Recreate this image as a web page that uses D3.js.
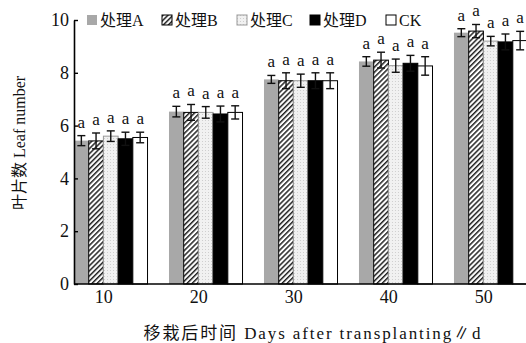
<!DOCTYPE html>
<html>
<head>
<meta charset="utf-8">
<title>Leaf number</title>
<style>
  body { margin: 0; background: #fff; }
  svg { display: block; }
  text { font-family: "Liberation Serif", "Noto Sans CJK SC", serif; fill: #111; }
</style>
<script src="https://d3js.org/d3.v7.min.js"></script>
</head>
<body>
<script>
// days after transplanting
var days = ["10", "20", "30", "40", "50"];
var series = ["处理A", "处理B", "处理C", "处理D", "CK"];
// mean leaf number per series, one value per day
var valA = [5.43, 6.53, 7.75, 8.43, 9.52];
var valB = [5.42, 6.50, 7.70, 8.48, 9.58];
var valC = [5.60, 6.50, 7.70, 8.27, 9.20];
var valD = [5.50, 6.44, 7.70, 8.36, 9.17];
var valCK = [5.55, 6.50, 7.70, 8.26, 9.22];
// error bar half widths
var errA = [0.19, 0.20, 0.15, 0.18, 0.15];
var errB = [0.30, 0.30, 0.30, 0.30, 0.25];
var errC = [0.20, 0.22, 0.25, 0.25, 0.18];
var errD = [0.25, 0.30, 0.30, 0.30, 0.30];
var errCK = [0.20, 0.25, 0.30, 0.35, 0.35];
var letters = ["a", "a", "a", "a", "a"];
var yTicks = [0, 2, 4, 6, 8, 10];

var vals = [valA, valB, valC, valD, valCK];
var errs = [errA, errB, errC, errD, errCK];

var w = 526, h = 343;
var svg = d3.select("body").append("svg").attr("width", w).attr("height", h);

var defs = svg.append("defs");
var hatch = defs.append("pattern").attr("id", "hatch")
  .attr("patternUnits", "userSpaceOnUse").attr("width", 3.6).attr("height", 3.6)
  .attr("patternTransform", "rotate(45)");
hatch.append("rect").attr("width", 3.6).attr("height", 3.6).attr("fill", "#fff");
hatch.append("rect").attr("width", 1.5).attr("height", 3.6).attr("fill", "#222");

var dots = defs.append("pattern").attr("id", "dots")
  .attr("patternUnits", "userSpaceOnUse").attr("width", 3).attr("height", 3);
dots.append("rect").attr("width", 3).attr("height", 3).attr("fill", "#f1f1f1");
dots.append("rect").attr("width", 1).attr("height", 1).attr("fill", "#cfcfcf");

var fills = ["#a8a8a8", "url(#hatch)", "url(#dots)", "#000", "#fff"];
var strokes = ["none", "#000", "#999", "#000", "#000"];

var x0 = d3.scaleBand().domain(days).range([74, 527.5]).paddingInner(0.226).paddingOuter(0);
var x1 = d3.scaleBand().domain(d3.range(series.length)).range([0, x0.bandwidth()]);
var y = d3.scaleLinear().domain([0, 10]).range([284, 20]);

// bars
var groups = svg.selectAll("g.grp").data(days).enter().append("g")
  .attr("class", "grp")
  .attr("transform", function (d) { return "translate(" + x0(d) + ",0)"; });

series.forEach(function (s, si) {
  groups.append("rect")
    .attr("x", function (d, i) { return x1(si); })
    .attr("y", function (d, i) { return y(vals[si][i]); })
    .attr("width", x1.bandwidth())
    .attr("height", function (d, i) { return y(0) - y(vals[si][i]); })
    .attr("fill", fills[si])
    .attr("stroke", strokes[si])
    .attr("stroke-width", 1);
});

// error bars + letters
series.forEach(function (s, si) {
  var cx = function (d, i) { return x1(si) + x1.bandwidth() / 2; };
  var eb = groups.append("g").attr("stroke", "#111").attr("stroke-width", 1.4);
  eb.append("line")
    .attr("x1", cx).attr("x2", cx)
    .attr("y1", function (d, i) { return y(vals[si][i] + errs[si][i]); })
    .attr("y2", function (d, i) { return y(vals[si][i] - errs[si][i]); });
  eb.append("line")
    .attr("x1", function (d, i) { return cx(d, i) - 4; })
    .attr("x2", function (d, i) { return cx(d, i) + 4; })
    .attr("y1", function (d, i) { return y(vals[si][i] + errs[si][i]); })
    .attr("y2", function (d, i) { return y(vals[si][i] + errs[si][i]); });
  eb.append("line")
    .attr("x1", function (d, i) { return cx(d, i) - 4; })
    .attr("x2", function (d, i) { return cx(d, i) + 4; })
    .attr("y1", function (d, i) { return y(vals[si][i] - errs[si][i]); })
    .attr("y2", function (d, i) { return y(vals[si][i] - errs[si][i]); });
  groups.append("text")
    .attr("x", cx)
    .attr("y", function (d, i) { return y(vals[si][i] + errs[si][i]) - 8; })
    .attr("text-anchor", "middle")
    .style("font-size", "17px")
    .text(function (d, i) { return letters[i]; });
});

// axes
var yAxis = svg.append("g").attr("transform", "translate(74,0)")
  .call(d3.axisLeft(y).tickValues(yTicks).tickSize(-4).tickSizeOuter(0).tickPadding(8));
yAxis.select(".domain").attr("stroke", "#000").attr("stroke-width", 1.6);
yAxis.selectAll(".tick line").attr("stroke", "#000").attr("stroke-width", 1.4);
yAxis.selectAll(".tick text").style("font-size", "18px").attr("font-family", null).attr("x", -5);

var xAxis = svg.append("g").attr("transform", "translate(0,284)")
  .call(d3.axisBottom(x0).tickSize(0).tickPadding(6));
xAxis.select(".domain").attr("stroke", "#000").attr("stroke-width", 1.6)
  .attr("d", "M74,0H526");
xAxis.selectAll(".tick text").style("font-size", "18px").attr("font-family", null).attr("dx", -7);
svg.selectAll(".tick text").style("fill", "#111");

// legend
var legX = [87, 162, 237, 310, 386];
var leg = svg.selectAll("g.leg").data(series).enter().append("g")
  .attr("class", "leg")
  .attr("transform", function (d, i) { return "translate(" + legX[i] + ",15)"; });
leg.append("rect").attr("width", 10).attr("height", 10)
  .attr("fill", function (d, i) { return fills[i]; })
  .attr("stroke", function (d, i) { return strokes[i]; });
leg.append("text").attr("x", 13).attr("y", 10.5)
  .style("font-size", "16px")
  .text(function (d) { return d; });

// titles
svg.append("text")
  .attr("transform", "translate(25,143) rotate(-90)")
  .attr("text-anchor", "middle")
  .style("font-size", "16px")
  .text("叶片数 Leaf number");

svg.append("text")
  .attr("x", 312).attr("y", 339)
  .attr("text-anchor", "middle")
  .attr("textLength", 337).attr("lengthAdjust", "spacing")
  .style("font-size", "17px")
  .text("移栽后时间 Days after transplanting∥d");
</script>
</body>
</html>
